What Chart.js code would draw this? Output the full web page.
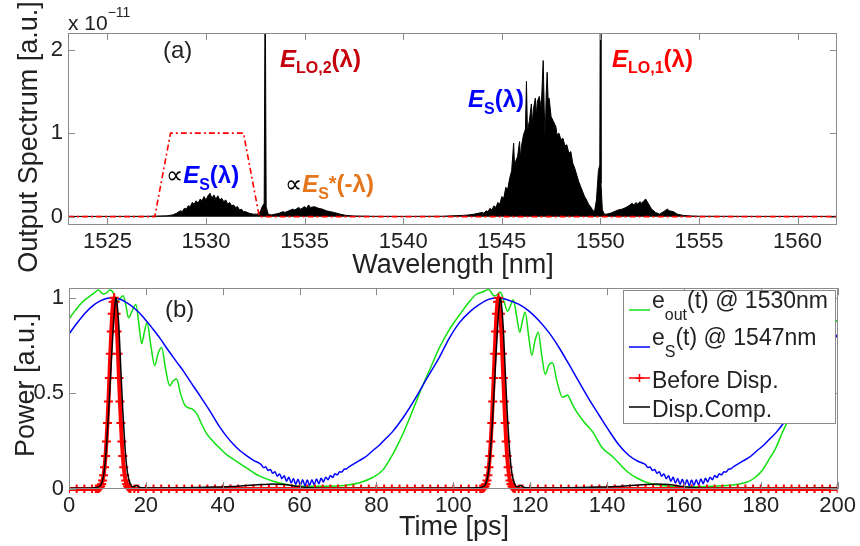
<!DOCTYPE html>
<html>
<head>
<meta charset="utf-8">
<script src="https://cdn.jsdelivr.net/npm/chart.js@4.4.1/dist/chart.umd.min.js"></script>
<style>
  html, body { margin: 0; padding: 0; background: #fff; }
  #wrap { position: relative; width: 860px; height: 546px; overflow: hidden; }
  #bottomChart { position: absolute; left: 0; top: 270px; }
  #topChart { position: absolute; left: 0; top: 0; }
</style>
</head>
<body>
<div id="wrap">
  <canvas id="bottomChart" width="860" height="276"></canvas>
  <canvas id="topChart" width="860" height="284"></canvas>
</div>
<script>
// ---- (a) spectrum, values in units of 1e-11 ----
const wavelengths = [
  1523, 1525, 1527, 1528.0, 1528.3, 1528.5, 1528.7, 1528.8, 1528.9, 1529.0,
  1529.1, 1529.2, 1529.3, 1529.4, 1529.5, 1529.6, 1529.7, 1529.8, 1529.9, 1530.0,
  1530.1, 1530.2, 1530.3, 1530.4, 1530.5, 1530.6, 1530.7, 1530.8, 1530.9, 1531.0,
  1531.1, 1531.2, 1531.3, 1531.4, 1531.5, 1531.6, 1531.7, 1531.8, 1531.9, 1532.0,
  1532.2, 1532.4, 1532.6, 1532.75, 1532.85, 1532.95, 1533.0, 1533.05, 1533.15, 1533.3,
  1533.5, 1533.7, 1533.9, 1534.0, 1534.2, 1534.4, 1534.5, 1534.7, 1534.8, 1535.0,
  1535.1, 1535.2, 1535.3, 1535.5, 1535.7, 1535.9, 1536.1, 1536.3, 1536.5, 1536.8,
  1537.1, 1537.5, 1538.5, 1540, 1541, 1542.0, 1542.5, 1543.0, 1543.3, 1543.6,
  1543.8, 1544.0, 1544.1, 1544.2, 1544.3, 1544.4, 1544.5, 1544.6, 1544.7, 1544.8,
  1544.9, 1545.0, 1545.1, 1545.2, 1545.3, 1545.4, 1545.5, 1545.6, 1545.65, 1545.7,
  1545.8, 1545.9, 1545.95, 1546.0, 1546.1, 1546.2, 1546.25, 1546.3, 1546.4, 1546.5,
  1546.55, 1546.6, 1546.7, 1546.75, 1546.8, 1546.9, 1547.0, 1547.1, 1547.15, 1547.2,
  1547.25, 1547.3, 1547.35, 1547.4, 1547.5, 1547.6, 1547.7, 1547.75, 1547.8, 1547.9,
  1548.0, 1548.1, 1548.2, 1548.3, 1548.4, 1548.5, 1548.6, 1548.7, 1548.8, 1548.9,
  1549.0, 1549.1, 1549.2, 1549.3, 1549.4, 1549.5, 1549.6, 1549.7, 1549.8, 1549.9,
  1549.97, 1550.0, 1550.03, 1550.1, 1550.2, 1550.3, 1550.5, 1550.7, 1550.9, 1551.1,
  1551.3, 1551.5, 1551.6, 1551.7, 1551.8, 1551.9, 1552.0, 1552.1, 1552.2, 1552.3,
  1552.4, 1552.5, 1552.6, 1552.8, 1553.0, 1553.2, 1553.4, 1553.5, 1553.7, 1553.9,
  1554.2, 1554.6, 1555.0, 1558, 1562
];
const spectrum = [
  0.003, 0.003, 0.004, 0.01, 0.02, 0.04, 0.07, 0.06, 0.10, 0.09,
  0.13, 0.12, 0.17, 0.15, 0.19, 0.16, 0.21, 0.19, 0.24, 0.20,
  0.25, 0.28, 0.22, 0.26, 0.21, 0.25, 0.20, 0.22, 0.18, 0.20,
  0.15, 0.17, 0.13, 0.14, 0.11, 0.12, 0.08, 0.09, 0.06, 0.06,
  0.04, 0.03, 0.03, 0.06, 0.12, 0.16, 3.0, 0.12, 0.03, 0.02,
  0.03, 0.04, 0.06, 0.05, 0.07, 0.09, 0.08, 0.11, 0.09, 0.12,
  0.10, 0.14, 0.11, 0.12, 0.10, 0.09, 0.07, 0.06, 0.05, 0.03,
  0.015, 0.008, 0.004, 0.003, 0.004, 0.005, 0.01, 0.015, 0.02, 0.03,
  0.04, 0.05, 0.04, 0.07, 0.06, 0.10, 0.08, 0.13, 0.11, 0.17,
  0.15, 0.24, 0.22, 0.35, 0.33, 0.46, 0.55, 0.88, 0.60, 0.66,
  0.72, 0.90, 0.70, 0.85, 0.98, 1.05, 1.62, 1.02, 1.15, 1.35,
  1.10, 1.28, 1.42, 1.20, 1.38, 1.44, 1.30, 1.87, 1.30, 0.90,
  1.45, 1.73, 1.40, 1.42, 1.20, 1.15, 1.10, 1.07, 0.98, 1.00,
  0.92, 0.94, 0.85, 0.86, 0.76, 0.78, 0.64, 0.58, 0.50, 0.42,
  0.36, 0.30, 0.24, 0.20, 0.15, 0.12, 0.08, 0.06, 0.20, 0.55,
  0.62, 3.0, 0.40, 0.08, 0.03, 0.03, 0.04, 0.06, 0.08, 0.09,
  0.11, 0.14, 0.16, 0.14, 0.17, 0.15, 0.18, 0.16, 0.19, 0.21,
  0.17, 0.13, 0.09, 0.05, 0.03, 0.06, 0.09, 0.07, 0.06, 0.03,
  0.015, 0.008, 0.005, 0.003, 0.003
];
const filterWl = [1523, 1527.4, 1528.2, 1531.9, 1532.7, 1562];
const filterVal = [0, 0, 1, 1, 0, 0];
const wlTicks = [1525, 1530, 1535, 1540, 1545, 1550, 1555, 1560];
const specTicks = [0, 1, 2];

// ---- (b) time traces ----
const greenT = [
  0, 1.5, 2.9, 4.2, 5.5, 6.6, 7.6, 8.9, 9.8, 10.6,
  11.4, 12.4, 13.2, 14.1, 14.8, 15.5, 16.4, 17.4, 18.2, 18.9,
  19.6, 20.3, 21.3, 22.3, 23.2, 24.1, 25.2, 26.2, 27.1, 28,
  29, 30.1, 31, 31.9, 33.2, 34.5, 35.8, 37, 38.4, 39.2,
  41, 43.6, 46.2, 49.6, 53.1, 56.5, 60, 67, 72.1, 75.6,
  79, 81.7, 84.2, 86, 88, 90, 92, 94, 96.4, 99,
  101.6, 104.2, 105.9, 107.6, 109.2, 110.6, 111.4, 112.2, 113.2, 114.1,
  114.9, 115.6, 116.5, 117.3, 118, 118.7, 119.6, 120.4, 121.3, 122.1,
  123, 123.9, 124.9, 125.8, 127, 128.4, 129.7, 130.8, 131.9, 134,
  136.2, 138.8, 141.4, 145.3, 148, 151, 155, 160, 166, 171,
  174, 176.9, 178.5, 180.3, 182, 183.8, 185.5, 187.3, 189, 190.7,
  192.5, 194.2, 196, 197.7, 200
];
const greenP = [
  0.89, 0.93, 0.965, 0.99, 1.01, 1.025, 1.04, 1.02, 1.025, 1.04,
  1.03, 0.98, 0.995, 1.01, 0.96, 0.895, 0.93, 0.965, 0.86, 0.76,
  0.82, 0.87, 0.75, 0.645, 0.71, 0.74, 0.62, 0.54, 0.565, 0.575,
  0.5, 0.44, 0.425, 0.42, 0.395, 0.34, 0.29, 0.26, 0.23, 0.214,
  0.18, 0.145, 0.11, 0.067, 0.041, 0.024, 0.015, 0.015, 0.02, 0.033,
  0.06, 0.1, 0.18, 0.25, 0.34, 0.44, 0.54, 0.63, 0.74, 0.835,
  0.91, 0.98, 1.017, 1.03, 1.043, 1.01, 1.015, 1.03, 0.98, 0.93,
  0.96, 0.99, 0.9, 0.82, 0.88, 0.926, 0.8, 0.70, 0.78, 0.82,
  0.7, 0.6, 0.65, 0.66, 0.56, 0.48, 0.49, 0.45, 0.41, 0.35,
  0.30, 0.214, 0.17, 0.09, 0.055, 0.03, 0.017, 0.012, 0.013, 0.018,
  0.025, 0.04, 0.06, 0.095, 0.15, 0.21, 0.29, 0.37, 0.46, 0.55,
  0.64, 0.715, 0.78, 0.836, 0.885
];

const blueT = [
  0, 2, 4, 6, 8, 10, 11.5, 13, 15, 17,
  19.3, 21.5, 23.6, 26, 28, 30, 32.3, 34, 36.6, 39.2,
  41, 42.7, 44.5, 46.2, 48,
  50, 50.6, 51.2, 51.8, 52.4, 53, 53.6, 54.2, 54.8, 55.4,
  56, 56.6, 57.2, 57.8, 58.4, 59, 59.6, 60.2, 60.8, 61.4,
  62, 62.6, 63.2, 63.8, 64.4, 65, 65.6, 66.2, 66.8, 67.4,
  68, 68.6, 69.2, 69.8, 70.4, 71, 71.6, 72.2, 72.8,
  73.8, 75.5, 77.3, 79, 80.8, 82.5, 84.2, 87, 90, 93,
  96.4, 99, 101.6, 104.2, 106.8, 109, 111.5, 114, 117.1, 119.7,
  122.3, 125, 127.5, 130, 132.7, 135.3, 137.9, 140.5, 143.1, 145.7,
  148,
  150, 150.6, 151.2, 151.8, 152.4, 153, 153.6, 154.2, 154.8, 155.4,
  156, 156.6, 157.2, 157.8, 158.4, 159, 159.6, 160.2, 160.8, 161.4,
  162, 162.6, 163.2, 163.8, 164.4, 165, 165.6, 166.2, 166.8, 167.4,
  168, 168.6, 169.2, 169.8, 170.4, 171, 171.6, 172.2, 172.8,
  173.8, 175.5, 177.3, 179, 180.8, 182.5, 184.2, 187, 190, 193,
  196.4, 198.2, 200
];
const blueP = [
  0.81, 0.865, 0.915, 0.955, 0.982, 0.997, 1.0, 0.995, 0.975, 0.945,
  0.9, 0.845, 0.79, 0.72, 0.665, 0.61, 0.54, 0.49, 0.41, 0.325,
  0.275, 0.235, 0.2, 0.175, 0.15,
  0.128, 0.113, 0.115, 0.097, 0.102, 0.082, 0.090, 0.067, 0.079, 0.054,
  0.069, 0.041, 0.061, 0.032, 0.055, 0.024, 0.051, 0.019, 0.048, 0.017,
  0.047, 0.018, 0.049, 0.022, 0.052, 0.028, 0.056, 0.037, 0.062, 0.048,
  0.070, 0.060, 0.080, 0.074, 0.090, 0.089, 0.103, 0.105, 0.115,
  0.128, 0.148, 0.17, 0.2, 0.23, 0.265, 0.30, 0.375, 0.47, 0.575,
  0.69, 0.79, 0.87, 0.925, 0.965, 0.99, 1.0, 0.99, 0.965, 0.93,
  0.88, 0.815, 0.74, 0.655, 0.56, 0.47, 0.387, 0.305, 0.23, 0.175,
  0.145,
  0.128, 0.113, 0.115, 0.097, 0.102, 0.082, 0.090, 0.067, 0.079, 0.054,
  0.069, 0.041, 0.061, 0.032, 0.055, 0.024, 0.051, 0.019, 0.048, 0.017,
  0.047, 0.018, 0.049, 0.022, 0.052, 0.028, 0.056, 0.037, 0.062, 0.048,
  0.070, 0.060, 0.080, 0.074, 0.090, 0.089, 0.103, 0.105, 0.115,
  0.128, 0.148, 0.17, 0.2, 0.23, 0.265, 0.30, 0.375, 0.47, 0.575,
  0.69, 0.75, 0.81
];

const redT = [
  0, 2, 4, 6, 7,
  7.5, 7.75, 8, 8.25, 8.5, 8.75, 9, 9.25, 9.5, 9.75,
  10, 10.25, 10.5, 10.75, 11, 11.25, 11.5, 11.75, 12, 12.25,
  12.5, 12.75, 13, 13.25, 13.5, 13.75, 14, 14.25, 14.5, 14.75,
  15, 15.25, 15.5, 15.75, 16,
  17, 18, 20, 22, 24, 26, 28, 30, 32, 34, 36, 38, 40, 42, 44, 46,
  48, 50, 52, 54, 56, 58, 60, 62, 64, 66, 68, 70, 72, 74, 76, 78,
  80, 82, 84, 86, 88, 90, 92, 94, 96, 98, 100, 102, 104, 106,
  107,
  107.5, 107.75, 108, 108.25, 108.5, 108.75, 109, 109.25, 109.5, 109.75,
  110, 110.25, 110.5, 110.75, 111, 111.25, 111.5, 111.75, 112, 112.25,
  112.5, 112.75, 113, 113.25, 113.5, 113.75, 114, 114.25, 114.5, 114.75,
  115, 115.25, 115.5, 115.75, 116,
  117, 118, 120, 122, 124, 126, 128, 130, 132, 134, 136, 138, 140, 142,
  144, 146, 148, 150, 152, 154, 156, 158, 160, 162, 164, 166, 168, 170,
  172, 174, 176, 178, 180, 182, 184, 186, 188, 190, 192, 194, 196, 198, 200
];
const redP = [
  0, 0, 0, 0, 0,
  0.002, 0.004, 0.008, 0.014, 0.026, 0.044, 0.072, 0.114, 0.172, 0.249,
  0.345, 0.458, 0.581, 0.707, 0.823, 0.917, 0.979, 1.0, 0.979, 0.917,
  0.823, 0.707, 0.581, 0.458, 0.345, 0.249, 0.172, 0.114, 0.072, 0.044,
  0.026, 0.014, 0.008, 0.004, 0.002,
  0, 0, 0, 0, 0, 0, 0, 0, 0, 0, 0, 0, 0, 0, 0, 0,
  0, 0, 0, 0, 0, 0, 0, 0, 0, 0, 0, 0, 0, 0, 0, 0,
  0, 0, 0, 0, 0, 0, 0, 0, 0, 0, 0, 0, 0, 0,
  0,
  0.002, 0.004, 0.008, 0.014, 0.026, 0.044, 0.072, 0.114, 0.172, 0.249,
  0.345, 0.458, 0.581, 0.707, 0.823, 0.917, 0.979, 1.0, 0.979, 0.917,
  0.823, 0.707, 0.581, 0.458, 0.345, 0.249, 0.172, 0.114, 0.072, 0.044,
  0.026, 0.014, 0.008, 0.004, 0.002,
  0, 0, 0, 0, 0, 0, 0, 0, 0, 0, 0, 0, 0, 0,
  0, 0, 0, 0, 0, 0, 0, 0, 0, 0, 0, 0, 0, 0,
  0, 0, 0, 0, 0, 0, 0, 0, 0, 0, 0, 0, 0, 0, 0
];

const blackT = [
  0, 4, 7, 7.5, 8, 8.5, 9, 9.5, 10, 10.5,
  11, 11.5, 12, 12.2, 12.5, 13, 13.5, 14, 14.5, 15,
  15.5, 16, 16.5, 17, 17.5, 18, 19, 22, 26, 30,
  34, 38, 42, 46, 50, 53, 56, 59, 62, 65,
  70, 80, 90, 100, 104, 106,
  107, 107.5, 108, 108.5, 109, 109.5, 110, 110.5, 111, 111.5,
  112, 112.2, 112.5, 113, 113.5, 114, 114.5, 115, 115.5, 116,
  116.5, 117, 117.5, 118, 119, 122, 126, 130, 134, 138,
  142, 146, 150, 153, 156, 159, 162, 165, 170, 180,
  190, 200
];
const blackP = [
  0.003, 0.004, 0.006, 0.01, 0.016, 0.03, 0.07, 0.16, 0.3, 0.47,
  0.66, 0.84, 0.97, 1.0, 0.97, 0.84, 0.62, 0.41, 0.24, 0.12,
  0.055, 0.025, 0.012, 0.012, 0.02, 0.012, 0.006, 0.005, 0.005, 0.006,
  0.008, 0.01, 0.013, 0.018, 0.023, 0.026, 0.023, 0.015, 0.008, 0.004,
  0.002, 0.002, 0.003, 0.004, 0.005, 0.006,
  0.006, 0.01, 0.016, 0.03, 0.07, 0.16, 0.3, 0.47, 0.66, 0.84,
  0.97, 1.0, 0.97, 0.84, 0.62, 0.41, 0.24, 0.12, 0.055, 0.025,
  0.012, 0.012, 0.02, 0.012, 0.006, 0.005, 0.005, 0.006, 0.008, 0.01,
  0.013, 0.018, 0.023, 0.026, 0.023, 0.015, 0.008, 0.004, 0.002, 0.002,
  0.003, 0.004
];
const timeTicks = [0, 20, 40, 60, 80, 100, 120, 140, 160, 180, 200];
const powerTicks = [0, 0.5, 1];

// ---- styles ----
const FONT = "'Liberation Sans', Arial, Helvetica, sans-serif";
const AXIS_GRAY = '#8a8a8a';
const TEXT = '#222';
const GREEN = '#10e010';
const BLUE = '#0000ff';
const RED = '#ff0000';
const DARK_RED = '#c4000c';
const ORANGE = '#e5761c';

const N = s => `${s}px ${FONT}`;
const B = s => `bold ${s}px ${FONT}`;
const BI = s => `italic bold ${s}px ${FONT}`;
const SYM = s => `${s}px 'DejaVu Sans', ${FONT}`;

function zip(xs, ys, name) {
  if (xs.length !== ys.length) throw new Error(name + ' length mismatch ' + xs.length + ' vs ' + ys.length);
  return xs.map((x, i) => ({ x: x, y: ys[i] }));
}

// draws a row of text pieces, each with its own font / colour / vertical shift
function rich(ctx, x, y, parts, color) {
  let cx = x;
  parts.forEach(p => {
    ctx.font = p.font;
    ctx.fillStyle = p.color || color || '#000';
    ctx.fillText(p.text, cx, y + (p.dy || 0));
    cx += ctx.measureText(p.text).width;
  });
}

function axis(min, max, values, fitSize, isX) {
  return {
    type: 'linear',
    min: min,
    max: max,
    afterBuildTicks: s => { s.ticks = values.map(v => ({ value: v })); },
    afterFit: s => { if (isX) s.height = fitSize; else s.width = fitSize; },
    grid: { display: false, drawTicks: false },
    border: { display: false },
    ticks: {
      font: { family: FONT, size: 22 },
      color: TEXT,
      padding: isX ? 4 : 5,
      autoSkip: false,
      maxRotation: 0,
      minRotation: 0,
      callback: v => String(v)
    }
  };
}

// matlab-like box with inward ticks on all four sides
function drawBox(chart) {
  const { ctx, chartArea: a, scales } = chart;
  ctx.save();
  ctx.strokeStyle = AXIS_GRAY;
  ctx.lineWidth = 1;
  ctx.strokeRect(Math.round(a.left) + 0.5, Math.round(a.top) + 0.5,
    Math.round(a.right - a.left) - 1, Math.round(a.bottom - a.top) - 1);
  ctx.beginPath();
  scales.x.ticks.forEach(t => {
    const px = Math.round(scales.x.getPixelForValue(t.value)) + 0.5;
    ctx.moveTo(px, a.bottom); ctx.lineTo(px, a.bottom - 7);
    ctx.moveTo(px, a.top); ctx.lineTo(px, a.top + 7);
  });
  scales.y.ticks.forEach(t => {
    const py = Math.round(scales.y.getPixelForValue(t.value)) + 0.5;
    ctx.moveTo(a.left, py); ctx.lineTo(a.left + 7, py);
    ctx.moveTo(a.right, py); ctx.lineTo(a.right - 7, py);
  });
  ctx.stroke();
  ctx.restore();
}

function rotatedTitle(ctx, text, x, y) {
  ctx.save();
  ctx.translate(x, y);
  ctx.rotate(-Math.PI / 2);
  ctx.textAlign = 'center';
  ctx.textBaseline = 'middle';
  ctx.font = N(27);
  ctx.fillStyle = TEXT;
  ctx.fillText(text, 0, 0);
  ctx.restore();
}

const topDecor = {
  id: 'topDecor',
  afterDatasetsDraw(chart) {
    drawBox(chart);
    const ctx = chart.ctx;
    ctx.save();
    ctx.textBaseline = 'alphabetic';
    rich(ctx, 68, 30, [
      { text: 'x 10', font: N(21) },
      { text: '\u221211', font: N(14), dy: -13 }
    ], TEXT);
    rich(ctx, 163, 58, [{ text: '(a)', font: N(24) }], TEXT);
    rich(ctx, 280, 67, [
      { text: 'E', font: BI(24) },
      { text: 'LO,2', font: B(16), dy: 6 },
      { text: '(\u03bb)', font: B(24) }
    ], DARK_RED);
    rich(ctx, 612, 67, [
      { text: 'E', font: BI(24) },
      { text: 'LO,1', font: B(16), dy: 6 },
      { text: '(\u03bb)', font: B(24) }
    ], RED);
    rich(ctx, 468, 107, [
      { text: 'E', font: BI(24) },
      { text: 'S', font: B(16), dy: 7 },
      { text: '(\u03bb)', font: B(24) }
    ], BLUE);
    rich(ctx, 166, 183, [
      { text: '\u221d', font: SYM(24), color: '#000' },
      { text: 'E', font: BI(24), color: BLUE },
      { text: 'S', font: B(16), dy: 7, color: BLUE },
      { text: '(\u03bb)', font: B(24), color: BLUE }
    ]);
    rich(ctx, 285, 192, [
      { text: '\u221d', font: SYM(24), color: '#000' },
      { text: 'E', font: BI(24), color: ORANGE },
      { text: 'S', font: B(16), dy: 7, color: ORANGE },
      { text: '*', font: B(20), dy: -2, color: ORANGE },
      { text: '(-\u03bb)', font: B(24), color: ORANGE }
    ]);
    ctx.font = N(27);
    ctx.fillStyle = TEXT;
    ctx.textAlign = 'center';
    ctx.fillText('Wavelength [nm]', 453, 273);
    ctx.restore();
    rotatedTitle(ctx, 'Output Spectrum [a.u.]', 30, 137);
  }
};

const bottomDecor = {
  id: 'bottomDecor',
  afterDatasetsDraw(chart) {
    drawBox(chart);
    const ctx = chart.ctx;
    ctx.save();
    ctx.textBaseline = 'alphabetic';
    rich(ctx, 165, 47, [{ text: '(b)', font: N(24) }], TEXT);

    // legend
    ctx.fillStyle = '#fff';
    ctx.fillRect(623.5, 20.5, 212, 133);
    ctx.strokeStyle = AXIS_GRAY;
    ctx.lineWidth = 1;
    ctx.strokeRect(623.5, 20.5, 212, 133);
    const sample = (y, color) => {
      ctx.strokeStyle = color;
      ctx.lineWidth = 1.5;
      ctx.beginPath(); ctx.moveTo(629, y); ctx.lineTo(650, y); ctx.stroke();
    };
    sample(40, GREEN);
    sample(77, BLUE);
    sample(108, RED);
    ctx.beginPath(); ctx.moveTo(639.5, 104); ctx.lineTo(639.5, 112);
    ctx.moveTo(635.5, 108); ctx.lineTo(643.5, 108); ctx.stroke();
    sample(137, '#000');
    rich(ctx, 652, 38, [
      { text: 'e', font: N(23) },
      { text: 'out', font: N(16), dy: 12 },
      { text: '(t) @ 1530nm', font: N(23) }
    ], TEXT);
    rich(ctx, 652, 75, [
      { text: 'e', font: N(23) },
      { text: 'S', font: N(16), dy: 12 },
      { text: '(t) @ 1547nm', font: N(23) }
    ], TEXT);
    rich(ctx, 652, 118, [{ text: 'Before Disp.', font: N(23) }], TEXT);
    rich(ctx, 652, 147, [{ text: 'Disp.Comp.', font: N(23) }], TEXT);

    ctx.font = N(27);
    ctx.fillStyle = TEXT;
    ctx.textAlign = 'center';
    ctx.fillText('Time [ps]', 454, 265);
    ctx.restore();
    rotatedTitle(ctx, 'Power [a.u.]', 27, 115);
  }
};

const baseOptions = {
  responsive: false,
  animation: false,
  devicePixelRatio: 1,
  events: [],
  plugins: { legend: { display: false }, tooltip: { enabled: false } }
};

new Chart(document.getElementById('topChart'), {
  type: 'line',
  data: {
    datasets: [
      {
        data: zip(filterWl, filterVal, 'filter'),
        borderColor: RED,
        borderWidth: 1.6,
        borderDash: [6, 3, 2, 3],
        pointRadius: 0,
        fill: false
      },
      {
        data: zip(wavelengths, spectrum, 'spectrum'),
        borderColor: '#000',
        backgroundColor: '#000',
        borderWidth: 1,
        pointRadius: 0,
        fill: 'origin'
      }
    ]
  },
  options: Object.assign({}, baseOptions, {
    layout: { padding: { left: 0, right: 23, top: 33, bottom: 0 } },
    scales: {
      x: axis(1523, 1562, wlTicks, 59, true),
      y: axis(-0.1, 2.2, specTicks, 68, false)
    }
  }),
  plugins: [topDecor]
});

new Chart(document.getElementById('bottomChart'), {
  type: 'line',
  data: {
    datasets: [
      {
        data: zip(blackT, blackP, 'black'),
        borderColor: '#000',
        borderWidth: 1.5,
        pointRadius: 0,
        cubicInterpolationMode: 'monotone',
        fill: false
      },
      {
        data: zip(redT, redP, 'red'),
        borderColor: RED,
        borderWidth: 4,
        pointStyle: 'cross',
        pointRadius: 4.5,
        pointBorderWidth: 2,
        pointBorderColor: RED,
        cubicInterpolationMode: 'monotone',
        clip: { left: 0, top: 0, right: 0, bottom: 4 },
        fill: false
      },
      {
        data: zip(blueT, blueP, 'blue'),
        borderColor: BLUE,
        borderWidth: 1.5,
        pointRadius: 0,
        cubicInterpolationMode: 'monotone',
        fill: false
      },
      {
        data: zip(greenT, greenP, 'green'),
        borderColor: GREEN,
        borderWidth: 1.5,
        pointRadius: 0,
        cubicInterpolationMode: 'monotone',
        fill: false
      }
    ]
  },
  options: Object.assign({}, baseOptions, {
    layout: { padding: { left: 0, right: 21, top: 16, bottom: 0 } },
    scales: {
      x: axis(0, 200, timeTicks, 57, true),
      y: axis(0, 1.05, powerTicks, 69, false)
    }
  }),
  plugins: [bottomDecor]
});
</script>
</body>
</html>
